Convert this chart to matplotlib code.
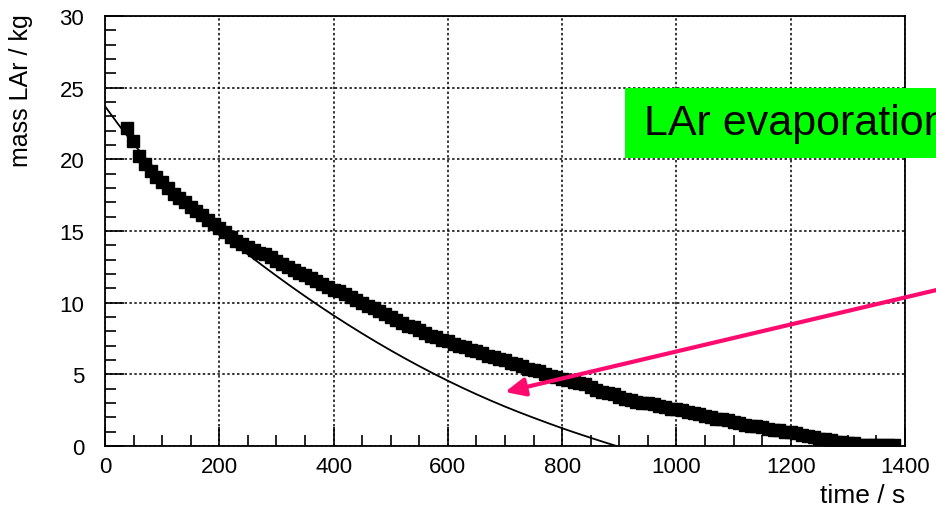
#!/usr/bin/env python3
"""Liquid argon mass versus time during evaporation, with a model curve."""
import matplotlib
matplotlib.use("Agg")
import matplotlib.pyplot as plt
from matplotlib.patches import Rectangle
from matplotlib.ticker import MultipleLocator

plt.rcParams["font.family"] = ["Liberation Sans", "DejaVu Sans"]

# measured LAr mass (kg) against time (s)
time_s = [
    38, 49, 60, 70, 80, 90, 100, 110, 120, 130,
    140, 150, 160, 170, 180, 190, 200, 210, 220, 230,
    240, 250, 260, 270, 280, 290, 300, 310, 320, 330,
    340, 350, 360, 370, 380, 390, 400, 410, 420, 430,
    440, 450, 460, 470, 480, 490, 500, 510, 520, 530,
    540, 550, 560, 570, 580, 590, 600, 610, 620, 630,
    640, 650, 660, 670, 680, 690, 700, 710, 720, 730,
    740, 750, 760, 770, 780, 790, 800, 810, 820, 830,
    840, 850, 860, 870, 880, 890, 900, 910, 920, 930,
    940, 950, 960, 970, 980, 990, 1000, 1010, 1020, 1030,
    1040, 1050, 1060, 1070, 1080, 1090, 1100, 1110, 1120, 1130,
    1140, 1150, 1160, 1170, 1180, 1190, 1200, 1210, 1220, 1230,
    1240, 1250, 1260, 1270, 1280, 1290, 1300, 1310, 1320, 1330,
    1340, 1350, 1360, 1370, 1380,
]
mass_kg = [
    22.2, 21.3, 20.2, 19.7, 19.2, 18.8, 18.4, 18.0, 17.6, 17.3,
    17.0, 16.7, 16.4, 16.1, 15.8, 15.5, 15.2, 14.9, 14.6, 14.3,
    14.1, 13.9, 13.7, 13.5, 13.4, 13.2, 12.9, 12.7, 12.5, 12.3,
    12.1, 11.9, 11.7, 11.5, 11.3, 11.1, 10.9, 10.8, 10.6, 10.4,
    10.2, 10.0, 9.8, 9.6, 9.4, 9.2, 9.0, 8.8, 8.6, 8.4,
    8.3, 8.1, 7.9, 7.7, 7.6, 7.4, 7.3, 7.1, 7.0, 6.9,
    6.7, 6.6, 6.5, 6.3, 6.2, 6.1, 6.0, 5.8, 5.7, 5.6,
    5.4, 5.3, 5.2, 5.0, 4.9, 4.8, 4.7, 4.6, 4.5, 4.4,
    4.3, 4.1, 3.9, 3.8, 3.7, 3.6, 3.4, 3.3, 3.2, 3.1,
    3.0, 3.0, 2.9, 2.8, 2.7, 2.6, 2.6, 2.5, 2.4, 2.3,
    2.2, 2.1, 2.0, 1.9, 1.9, 1.8, 1.7, 1.6, 1.5, 1.4,
    1.4, 1.3, 1.2, 1.1, 1.1, 1.0, 1.0, 0.9, 0.8, 0.7,
    0.6, 0.5, 0.5, 0.4, 0.3, 0.3, 0.2, 0.2, 0.1, 0.1,
    0.1, 0.1, 0.1, 0.1, 0.1,
]

# model curve
model_time_s = [0, 25, 50, 75, 100, 125, 150, 175, 200, 225, 250, 275, 300,
                325, 350, 375, 400, 425, 450, 475, 500, 525, 550, 575, 600,
                625, 650, 675, 700, 725, 750, 775, 800, 825, 850, 875, 895]
model_mass_kg = [23.70, 22.35, 21.08, 19.89, 18.78, 17.74, 16.76, 15.84,
                 14.98, 14.16, 13.37, 12.61, 11.87, 11.15, 10.45, 9.77, 9.11,
                 8.47, 7.85, 7.25, 6.67, 6.11, 5.57, 5.05, 4.55, 4.07, 3.61,
                 3.17, 2.75, 2.35, 1.97, 1.60, 1.24, 0.90, 0.57, 0.25, 0.00]

W, H = 936, 510
fig = plt.figure(figsize=(W / 100, H / 100), dpi=100)
ax = fig.add_axes([105 / W, 1 - 447 / H, 800 / W, 430 / H])

ax.plot(time_s, mass_kg, ls="none", marker="s", ms=8.0, color="black",
        mec="black", zorder=3)
ax.plot(model_time_s, model_mass_kg, color="black", lw=1.3, zorder=4)

ax.set_xlim(0, 1400)
ax.set_ylim(0, 30)
ax.xaxis.set_major_locator(MultipleLocator(200))
ax.xaxis.set_minor_locator(MultipleLocator(50))
ax.yaxis.set_major_locator(MultipleLocator(5))
ax.yaxis.set_minor_locator(MultipleLocator(1))
ax.grid(True, which="major", color="black", ls=(0, (1.6, 1.6)), lw=1.1)
ax.tick_params(which="both", direction="in", top=False, right=False,
               width=1.2, labelsize=16)
ax.tick_params(which="major", length=14)
ax.tick_params(which="minor", length=8)
ax.tick_params(axis="x", pad=7)
ax.tick_params(axis="y", pad=15)
for s in ax.spines.values():
    s.set_linewidth(1.3)

fig.text(905 / W, 1 - 496 / H, "time / s", ha="right", va="center",
         fontsize=19)
fig.text(21 / W, 1 - 14 / H, "mass LAr / kg", ha="center", va="top",
         rotation=90, fontsize=18)

# label box, running off the right edge
fig.patches.append(Rectangle((625 / W, 1 - 159 / H), 0.4, 70 / H,
                             transform=fig.transFigure, facecolor="#00ff00",
                             edgecolor="none", zorder=5))
fig.text(644 / W, 1 - 124 / H, "LAr evaporation", ha="left", va="center",
         fontsize=31, color="black", zorder=6)

ax.annotate("", xy=(505, H - 393), xycoords="figure pixels",
            xytext=(945, H - 289), textcoords="figure pixels",
            arrowprops=dict(arrowstyle="-|>,head_length=1.2,head_width=0.55",
                            color="#ff0a6e", lw=3.0, shrinkA=0, shrinkB=0),
            annotation_clip=False, zorder=7)

fig.savefig("out.png", dpi=100)
